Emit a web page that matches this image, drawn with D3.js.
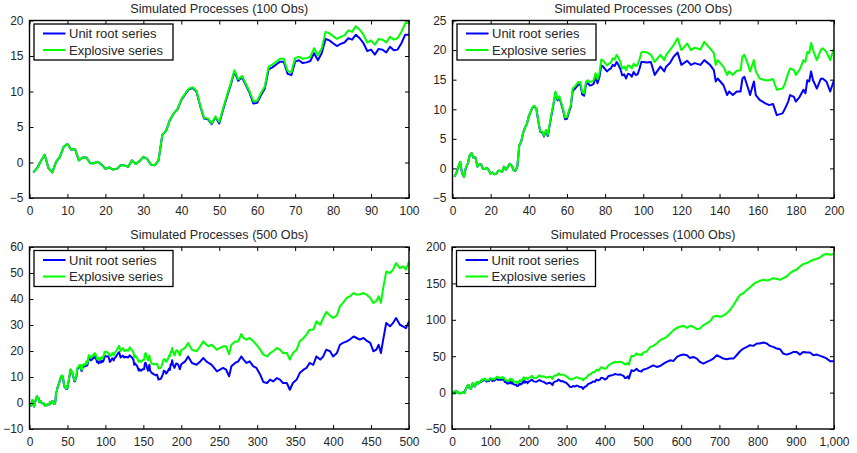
<!DOCTYPE html>
<html>
<head>
<meta charset="utf-8">
<script src="https://cdn.jsdelivr.net/npm/d3@7"></script>
<style>
  body { margin: 0; background: #fff; }
  svg { display: block; font-family: "Liberation Sans", Arial, Helvetica, sans-serif; }
</style>
</head>
<body>
<svg id="chart" width="857" height="453"></svg>
<script>
// ---- Data: one unit-root path and one explosive path, shown over 100/200/500/1000 obs ----
// Observations 1..100, every step
const unitRoot100 = [-1.4,-0.8,0.2,1.1,-0.8,-1.4,0.1,0.8,2.2,2.6,
  1.8,1.9,0.3,0.7,0.7,-0.1,-0.1,0.1,-0.3,-0.9,
  -0.7,-1.0,-0.9,-0.4,-0.4,-0.6,0.3,-0.2,0.2,0.8,
  0.5,-0.3,-0.4,0.3,3.9,4.5,6.0,6.9,7.5,8.8,
  9.6,10.3,10.5,10.0,7.9,6.2,6.1,5.4,6.4,5.5,
  7.4,9.2,10.9,12.8,11.5,12.0,10.9,9.8,8.3,8.4,
  9.5,10.4,13.1,13.4,13.8,14.2,14.2,12.5,12.3,14.2,
  14.4,14.0,14.1,14.3,15.4,14.4,15.4,17.4,17.2,16.8,
  16.4,16.7,16.9,17.5,17.3,18.0,17.5,16.8,15.7,15.9,
  15.2,16.0,15.9,15.5,16.3,15.8,15.9,16.8,18.0,18.0];
const explosive100 = [-1.4,-0.8,0.2,1.1,-0.8,-1.4,0.1,0.8,2.2,2.6,
  1.8,1.9,0.3,0.7,0.7,-0.1,-0.1,0.1,-0.3,-0.9,
  -0.7,-1.0,-0.9,-0.4,-0.4,-0.6,0.3,-0.2,0.2,0.8,
  0.5,-0.3,-0.4,0.3,3.9,4.5,6.0,6.9,7.5,8.9,
  9.7,10.4,10.6,10.1,8.0,6.3,6.2,5.5,6.5,5.7,
  7.6,9.4,11.1,13.0,11.7,12.2,11.1,10.0,8.6,8.7,
  9.8,10.7,13.5,13.8,14.2,14.6,14.6,12.9,12.7,14.7,
  14.9,14.6,14.7,14.9,16.1,15.1,16.1,18.4,18.2,17.8,
  17.4,17.7,17.9,18.6,18.4,19.2,18.7,18.0,16.9,17.2,
  16.6,17.4,17.3,16.9,17.7,17.3,17.5,18.4,19.6,19.7];

// Observations 101..200
const obs200 = [102,104,106,109,111,112,114,116,118,120,
  123,125,127,130,132,135,137,138,139,142,
  144,145,147,149,151,152,153,155,156,158,
  159,161,164,166,168,170,173,174,176,177,
  179,180,182,184,185,186,187,188,189,191,
  193,194,196,198,200];
const unitRoot200 = [17.9,18.0,15.8,17.2,16.4,17.2,17.8,18.9,19.6,17.5,
  18.2,17.5,17.8,17.5,18.3,17.5,16.6,14.7,15.2,14.1,
  12.4,13.0,12.4,13.0,13.0,15.2,15.5,13.5,12.4,14.7,
  12.4,11.6,11.0,10.7,10.9,9.0,9.3,9.9,11.3,12.4,
  12.1,11.3,12.1,13.3,12.7,14.9,14.7,16.4,14.9,13.5,
  15.1,15.2,14.7,13.0,14.9];
const explosive200 = [19.6,19.2,18.0,19.2,18.3,19.2,20.0,20.9,22.0,20.0,
  21.1,20.0,20.4,20.1,21.4,20.3,19.5,17.5,18.3,17.2,
  15.8,16.4,15.8,16.5,16.6,18.9,19.2,17.5,16.4,18.3,
  16.4,15.2,14.9,14.9,15.1,13.3,13.5,14.1,16.1,16.9,
  16.6,15.8,16.7,18.3,18.0,19.7,19.5,21.2,20.0,18.3,
  20.0,20.3,19.7,18.3,20.3];

// Observations 201..500
const obs500 = [205,209,214,220,225,229,233,236,240,
  247,251,255,259,263,266,271,275,279,282,
  286,290,295,299,304,308,313,317,321,326,
  330,334,339,343,347,352,356,361,365,369,
  374,378,383,387,391,396,400,405,409,413,
  418,422,427,431,435,440,444,449,453,457,
  460,463,466,470,475,479,483,488,492,496,
  500];
const unitRoot500 = [16.0,17.9,15.4,14.7,16.0,17.3,16.0,15.4,14.7,
  12.2,12.8,13.5,12.8,10.3,14.1,15.4,16.0,17.9,16.7,
  15.4,16.0,14.1,13.5,10.9,8.1,7.7,9.0,8.3,9.6,
  9.0,7.7,7.7,5.1,7.7,9.0,11.5,12.8,13.5,15.4,
  14.7,17.9,16.7,17.9,20.5,19.9,17.9,19.2,22.4,23.1,
  23.7,24.4,25.6,25.0,24.4,25.0,24.0,23.1,19.9,20.5,
  22.4,19.2,24.4,30.8,29.5,30.8,32.7,30.1,29.5,28.8,
  31.4];
const explosive500 = [21.2,23.1,20.5,19.9,21.8,23.7,22.4,21.8,22.4,
  20.5,21.2,21.8,21.8,18.8,22.4,23.7,23.7,26.5,25.0,
  24.4,25.0,23.7,22.4,20.5,18.6,17.9,19.2,19.9,21.2,
  20.5,19.2,19.2,16.7,19.2,20.5,23.7,25.0,26.3,28.2,
  28.2,31.4,30.1,32.7,35.0,33.7,32.7,33.7,37.2,38.5,
  40.4,41.0,42.3,41.7,41.7,42.3,41.7,40.4,38.5,39.2,
  41.0,38.5,44.2,50.6,50.0,51.3,53.8,51.9,52.6,51.3,
  54.5];

// Observations 501..1000
const obs1000 = [510,519,527,536,545,554,562,571,580,589,
  597,606,615,623,632,641,649,658,667,676,
  684,693,702,710,719,728,737,745,754,763,
  772,780,789,798,806,815,824,832,841,850,
  859,867,876,885,894,902,911,919,929,937,
  946,955,964,972,981,990,1000];
const unitRoot1000 = [32.9,35.2,37.5,35.2,36.6,39.8,42.1,44.4,43.5,49.0,
  51.3,52.2,51.3,47.6,49.0,46.7,42.1,39.8,42.1,44.4,
  46.7,51.3,49.0,46.7,45.8,46.7,46.7,51.3,56.8,60.5,
  62.8,65.1,64.2,67.4,67.4,68.8,67.4,64.2,62.8,60.5,
  59.6,53.6,52.2,53.6,55.9,55.9,52.2,55.9,55.0,55.0,
  51.3,52.2,50.4,49.0,46.7,43.0,43.0];
const explosive1000 = [56.8,62.8,64.2,67.4,72.0,74.3,76.6,81.2,85.8,89.0,
  90.4,91.8,89.0,91.8,90.4,87.2,88.1,92.7,95.0,98.3,
  104.2,105.6,104.2,105.6,108.8,113.4,120.3,127.3,134.2,136.5,
  141.1,144.3,148.9,151.7,153.5,154.9,154.0,154.9,157.2,156.3,
  154.9,157.2,159.5,164.1,167.3,168.7,173.3,176.5,177.9,180.2,
  182.5,183.9,185.7,189.4,190.3,189.4,190.3];

// Axis ticks
const xTicks100 = [0,10,20,30,40,50,60,70,80,90,100];
const yTicks100 = [-5,0,5,10,15,20];
const xTicks200 = [0,20,40,60,80,100,120,140,160,180,200];
const yTicks200 = [-5,0,5,10,15,20,25];
const xTicks500 = [0,50,100,150,200,250,300,350,400,450,500];
const yTicks500 = [-10,0,10,20,30,40,50,60];
const xTicks1000 = [0,100,200,300,400,500,600,700,800,900,1000];
const yTicks1000 = [-50,0,50,100,150,200];

const seriesNames = ["Unit root series", "Explosive series"];
const seriesColors = ["#0000ff", "#00ff00"];

// ---- Assemble the two full paths as [obs, value] pairs ----
const obs100 = d3.range(1, 101);
function assemble(parts) {
  const out = [];
  parts.forEach(([obs, vals]) => obs.forEach((t, i) => out.push([t, vals[i]])));
  return out;
}
const unitPath = assemble([[obs100, unitRoot100], [obs200, unitRoot200], [obs500, unitRoot500], [obs1000, unitRoot1000]]);
const explPath = assemble([[obs100, explosive100], [obs200, explosive200], [obs500, explosive500], [obs1000, explosive1000]]);

// ---- Panel layout ----
const panels = [
  { n: 100,  left: 29.5, right: 409, top: 20.5, bottom: 198, yDomain: [-5, 20],   xTicks: xTicks100,  yTicks: yTicks100 },
  { n: 200,  left: 452.5, right: 834, top: 20.5, bottom: 198, yDomain: [-5, 25],   xTicks: xTicks200,  yTicks: yTicks200 },
  { n: 500,  left: 29.5, right: 409, top: 247, bottom: 429, yDomain: [-10, 60],  xTicks: xTicks500,  yTicks: yTicks500 },
  { n: 1000, left: 452, right: 834, top: 247, bottom: 429, yDomain: [-50, 200], xTicks: xTicks1000, yTicks: yTicks1000 }
];

const svg = d3.select("#chart");
const fmt = d3.format(",");
const textColor = "#262626";

panels.forEach((p, pi) => {
  const x = d3.scaleLinear().domain([0, p.n]).range([p.left, p.right]);
  const y = d3.scaleLinear().domain(p.yDomain).range([p.bottom, p.top]);
  const g = svg.append("g");

  // title
  g.append("text")
    .attr("x", (p.left + p.right) / 2)
    .attr("y", p.top - 8)
    .attr("text-anchor", "middle")
    .attr("font-size", 12.6)
    .attr("fill", textColor)
    .text(`Simulated Processes (${p.n} Obs)`);

  // clip region
  const clipId = "clip" + pi;
  g.append("clipPath").attr("id", clipId)
    .append("rect")
    .attr("x", p.left).attr("y", p.top)
    .attr("width", p.right - p.left).attr("height", p.bottom - p.top);

  // series lines (unit root underneath, explosive on top)
  const line = d3.line().x(d => x(d[0])).y(d => y(d[1]));
  [unitPath, explPath].forEach((path, si) => {
    g.append("path")
      .datum(path.filter(d => d[0] <= p.n))
      .attr("clip-path", `url(#${clipId})`)
      .attr("fill", "none")
      .attr("stroke", seriesColors[si])
      .attr("stroke-width", 2)
      .attr("stroke-linejoin", "round")
      .attr("d", line);
  });

  // axes with inward ticks on all sides
  const styleAxis = sel => {
    sel.select(".domain").remove();
    sel.selectAll(".tick line").attr("stroke", "#000").attr("stroke-width", 1);
    sel.selectAll(".tick text").attr("fill", textColor).attr("font-size", 12)
      .attr("font-family", "\"Liberation Sans\", Arial, Helvetica, sans-serif");
  };
  g.append("g").attr("transform", `translate(0,${p.bottom})`)
    .call(d3.axisBottom(x).tickValues(p.xTicks).tickFormat(fmt).tickSizeInner(-4).tickSizeOuter(0).tickPadding(8))
    .call(styleAxis);
  g.append("g").attr("transform", `translate(0,${p.top})`)
    .call(d3.axisTop(x).tickValues(p.xTicks).tickFormat("").tickSizeInner(-4).tickSizeOuter(0))
    .call(styleAxis);
  g.append("g").attr("transform", `translate(${p.left},0)`)
    .call(d3.axisLeft(y).tickValues(p.yTicks).tickSizeInner(-4).tickSizeOuter(0).tickPadding(6))
    .call(styleAxis);
  g.append("g").attr("transform", `translate(${p.right},0)`)
    .call(d3.axisRight(y).tickValues(p.yTicks).tickFormat("").tickSizeInner(-4).tickSizeOuter(0))
    .call(styleAxis);

  // plot frame
  g.append("rect")
    .attr("x", p.left).attr("y", p.top)
    .attr("width", p.right - p.left).attr("height", p.bottom - p.top)
    .attr("fill", "none").attr("stroke", "#000").attr("stroke-width", 1.4);

  // legend
  const lg = g.append("g").attr("transform", `translate(${p.left + 4.5},${p.top + 3.5})`);
  lg.append("rect").attr("width", 139).attr("height", 36)
    .attr("fill", "#fff").attr("stroke", "#000").attr("stroke-width", 1.3);
  seriesNames.forEach((name, si) => {
    const ly = 9.5 + si * 16.5;
    lg.append("line").attr("x1", 9).attr("x2", 31.5).attr("y1", ly).attr("y2", ly)
      .attr("stroke", seriesColors[si]).attr("stroke-width", 2);
    lg.append("text").attr("x", 35).attr("y", ly).attr("dy", "0.36em")
      .attr("font-size", 13).attr("fill", textColor).text(name);
  });
});
</script>
</body>
</html>
